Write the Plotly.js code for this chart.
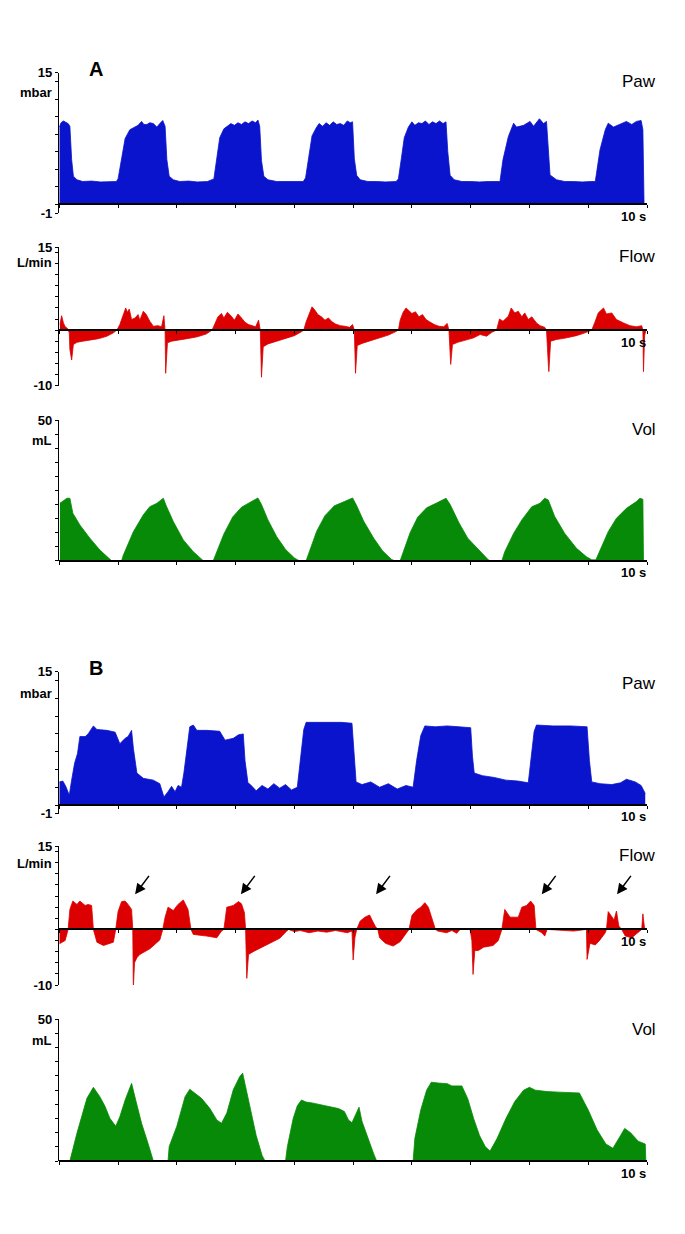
<!DOCTYPE html>
<html><head><meta charset="utf-8">
<script src="https://cdn.plot.ly/plotly-3.0.1.min.js"></script>
<style>html,body{margin:0;padding:0;background:#fff;}#chart{width:685px;height:1234px;}</style>
</head><body><div id="chart"></div>
<script>
// ---------- DATA (time in s, value in signal units) ----------
const pawA = [[0.00,8.8],[0.03,9.3],[0.07,9.5],[0.10,9.4],[0.15,9.2],[0.18,8.9],[0.21,5.1],[0.24,3.2],[0.30,2.8],[0.40,2.6],[0.55,2.65],[0.70,2.55],[0.85,2.6],[0.97,2.6],
[1.00,2.9],[1.06,5.1],[1.12,7.5],[1.20,8.5],[1.29,8.8],[1.34,9.0],[1.40,9.45],[1.44,9.1],[1.49,9.1],[1.54,9.3],[1.60,9.2],[1.66,8.8],[1.71,9.2],[1.76,9.55],[1.80,8.9],[1.83,5.1],[1.87,3.2],[1.94,2.8],
[2.05,2.6],[2.20,2.65],[2.35,2.55],[2.52,2.6],
[2.63,2.9],[2.68,5.2],[2.73,7.6],[2.80,8.6],[2.86,8.9],[2.92,9.2],[2.98,9.0],[3.04,9.3],[3.10,9.1],[3.16,9.4],[3.22,9.2],[3.28,9.5],[3.34,9.3],[3.38,9.6],[3.41,8.9],[3.44,5.0],[3.48,3.2],[3.55,2.8],
[3.70,2.6],[3.85,2.6],[4.00,2.55],[4.15,2.6],
[4.19,3.0],[4.24,5.3],[4.30,7.8],[4.37,8.7],[4.42,9.2],[4.48,8.9],[4.54,9.3],[4.60,9.0],[4.66,9.4],[4.72,9.1],[4.78,9.2],[4.84,9.0],[4.90,9.5],[4.95,9.3],[4.99,9.4],[5.02,5.2],[5.06,3.3],[5.12,2.8],
[5.25,2.6],[5.40,2.6],[5.55,2.55],[5.73,2.6],
[5.77,2.9],[5.82,5.2],[5.87,7.6],[5.94,8.8],[6.00,9.4],[6.05,9.0],[6.11,9.3],[6.17,9.2],[6.23,9.5],[6.29,9.1],[6.35,9.4],[6.41,9.2],[6.47,9.5],[6.53,9.2],[6.58,9.4],[6.61,6.0],[6.65,3.3],[6.72,2.8],
[6.85,2.6],[7.00,2.6],[7.15,2.55],[7.30,2.6],[7.49,2.6],
[7.50,2.7],[7.55,5.1],[7.64,7.7],[7.73,9.25],[7.78,8.8],[7.90,9.0],[8.01,9.45],[8.07,8.9],[8.17,9.75],[8.24,9.2],[8.29,9.45],[8.32,6.2],[8.35,3.35],[8.46,2.8],
[8.60,2.6],[8.75,2.6],[8.90,2.55],[9.05,2.6],[9.12,2.6],
[9.14,3.5],[9.20,6.2],[9.29,8.5],[9.34,9.25],[9.43,8.8],[9.54,9.1],[9.65,9.45],[9.74,9.1],[9.82,9.45],[9.90,9.55],[9.93,8.5],[9.95,0]];

const flowA = [[0.01,1.0],[0.04,2.6],[0.07,1.3],[0.10,0.6],[0.14,0.3],[0.17,-0.5],[0.18,-3.5],[0.21,-5.4],[0.24,-2.6],[0.30,-2.2],[0.40,-2.0],[0.47,-1.9],[0.55,-1.7],[0.64,-1.6],[0.72,-1.4],[0.81,-1.1],[0.92,-0.5],[0.98,0],
[1.03,1.0],[1.09,2.8],[1.13,4.0],[1.16,3.2],[1.19,3.8],[1.23,1.9],[1.29,2.2],[1.34,2.8],[1.37,1.8],[1.43,3.4],[1.48,2.8],[1.54,1.6],[1.60,0.7],[1.68,0.8],[1.74,0.6],[1.78,2.6],[1.80,-0.1],[1.81,-7.8],[1.84,-2.3],[1.91,-2.0],[2.05,-1.7],[2.20,-1.5],[2.35,-1.2],[2.50,-0.7],[2.60,0],
[2.65,1.2],[2.70,2.4],[2.76,3.0],[2.80,2.2],[2.86,3.2],[2.92,2.6],[2.98,1.8],[3.04,2.9],[3.10,2.2],[3.16,1.4],[3.22,1.0],[3.28,0.8],[3.34,0.6],[3.39,1.8],[3.42,0],[3.44,-8.5],[3.47,-3.0],[3.55,-2.5],[3.70,-2.0],[3.85,-1.6],[4.00,-1.0],[4.12,-0.3],[4.16,0],
[4.20,1.5],[4.25,3.0],[4.30,4.2],[4.35,3.6],[4.40,2.8],[4.46,2.4],[4.52,1.8],[4.58,2.2],[4.64,1.5],[4.70,1.1],[4.78,0.8],[4.86,0.7],[4.94,0.5],[4.99,1.0],[5.02,0],[5.04,-7.8],[5.07,-2.8],[5.15,-2.4],[5.30,-1.9],[5.45,-1.5],[5.60,-0.9],[5.72,-0.3],[5.77,0],
[5.80,1.8],[5.85,3.2],[5.90,4.0],[5.95,3.5],[6.00,3.0],[6.06,3.3],[6.12,2.4],[6.18,2.8],[6.24,1.9],[6.30,1.5],[6.38,1.0],[6.46,0.7],[6.54,0.6],[6.60,1.2],[6.63,0],[6.66,-6.2],[6.69,-2.6],[6.78,-2.2],[6.90,-1.8],[7.05,-1.4],[7.16,-0.8],[7.27,-1.1],[7.36,-0.4],[7.44,0],
[7.49,2.0],[7.55,1.6],[7.64,2.5],[7.69,4.0],[7.75,3.1],[7.81,3.4],[7.87,2.4],[7.92,3.1],[7.98,1.9],[8.04,2.4],[8.12,1.3],[8.18,0.8],[8.26,0.5],[8.29,0],[8.32,-6.0],[8.33,-7.5],[8.36,-2.0],[8.46,-1.7],[8.63,-1.4],[8.80,-1.0],[8.97,-0.4],[9.06,0],
[9.12,1.6],[9.17,3.1],[9.26,4.0],[9.31,2.9],[9.40,3.1],[9.48,1.9],[9.60,1.3],[9.71,0.8],[9.82,0.6],[9.91,0.8],[9.93,0],[9.94,-7.5],[9.96,-1.0],[9.98,0]];

const volA = [[0.01,20.4],[0.13,22.2],[0.18,22.2],[0.23,16.9],[0.35,12.7],[0.52,8.0],[0.69,3.8],[0.86,0.8],[0.89,0],[1.06,0],[1.09,2.0],[1.26,10.3],[1.43,16.3],[1.54,19.2],[1.66,20.4],[1.77,22.2],[1.82,19.5],[1.94,13.9],[2.11,7.4],[2.28,3.2],[2.42,0.3],[2.45,0],
[2.62,0],[2.66,2.0],[2.80,9.5],[2.95,15.5],[3.10,19.0],[3.25,20.8],[3.38,22.3],[3.44,20.0],[3.55,14.5],[3.70,8.5],[3.85,4.0],[4.00,1.0],[4.08,0],
[4.20,0],[4.24,2.5],[4.38,10.5],[4.52,16.0],[4.68,19.5],[4.85,21.0],[4.99,22.3],[5.05,20.0],[5.18,14.0],[5.35,8.0],[5.50,3.5],[5.65,0.5],[5.70,0],
[5.80,0],[5.84,2.5],[5.97,10.0],[6.10,15.5],[6.25,18.8],[6.42,20.5],[6.58,22.2],[6.65,20.0],[6.80,13.5],[6.95,8.0],[7.16,3.2],[7.30,0.3],[7.33,0],
[7.53,0],[7.58,3.2],[7.73,9.7],[7.87,14.5],[8.04,19.2],[8.18,20.4],[8.26,22.2],[8.32,21.6],[8.43,15.7],[8.60,9.7],[8.80,4.4],[8.97,1.4],[9.06,0.3],[9.13,0.3],[9.20,3.8],[9.34,10.3],[9.48,15.1],[9.65,18.6],[9.82,21.0],[9.88,22.2],[9.93,21.8],[9.94,0]];

const pawB = [[0.00,2.6],[0.06,2.7],[0.11,2.1],[0.17,1.1],[0.21,2.8],[0.26,4.7],[0.31,5.8],[0.35,7.7],[0.44,7.7],[0.49,8.0],[0.58,8.9],[0.64,8.5],[0.81,8.4],[0.95,8.2],[1.03,6.9],[1.12,7.5],[1.17,7.7],[1.23,8.4],[1.26,6.4],[1.32,3.6],[1.43,3.0],[1.60,2.8],[1.71,2.4],[1.78,0.9],[1.85,1.5],[1.91,2.1],[1.97,1.5],[2.02,2.2],[2.08,2.0],[2.12,3.6],[2.17,6.2],[2.22,8.8],[2.28,9.0],[2.34,8.4],[2.51,8.4],[2.73,8.3],[2.82,7.3],[2.96,7.5],[3.05,7.9],[3.13,8.0],[3.16,5.0],[3.21,2.5],
[3.25,2.3],[3.35,1.6],[3.45,2.2],[3.55,1.8],[3.65,2.4],[3.75,1.9],[3.85,2.3],[3.95,1.7],[4.05,2.0],[4.10,5.0],[4.16,8.5],[4.20,9.3],[4.50,9.3],[4.80,9.3],[4.98,9.2],[5.02,5.5],[5.05,2.6],[5.15,2.3],[5.30,2.6],[5.45,2.0],[5.60,2.4],[5.75,1.8],[5.90,2.2],[6.02,2.0],
[6.08,5.0],[6.15,7.8],[6.22,8.9],[6.40,8.8],[6.60,8.9],[6.80,8.8],[7.00,8.7],[7.03,5.5],[7.06,3.6],[7.20,3.3],[7.40,3.1],[7.60,2.8],[7.80,2.7],[7.98,2.5],
[8.03,5.5],[8.08,8.3],[8.12,9.0],[8.40,8.9],[8.70,8.9],[8.98,8.8],[9.02,5.0],[9.06,2.6],[9.20,2.4],[9.40,2.3],[9.55,2.5],[9.65,2.9],[9.80,2.6],[9.90,2.2],[9.97,1.3]];

const flowB = [[0.00,-2.6],[0.10,-2.0],[0.15,0],[0.18,3.6],[0.23,5.1],[0.30,4.5],[0.35,5.1],[0.44,4.3],[0.49,4.5],[0.55,4.3],[0.58,0],[0.64,-2.3],[0.75,-2.9],[0.92,-2.3],[0.96,0],[1.00,3.2],[1.06,5.0],[1.12,5.1],[1.17,4.5],[1.23,3.6],[1.25,0],[1.26,-10.5],[1.28,-6.0],[1.32,-5.1],[1.37,-4.5],[1.54,-3.5],[1.71,-1.9],[1.76,0],[1.80,2.2],[1.85,4.0],[1.94,3.4],[2.02,4.5],[2.11,5.3],[2.19,3.6],[2.24,0],[2.28,-0.9],[2.51,-1.2],[2.68,-1.5],[2.76,-0.3],[2.80,0],[2.85,4.0],[2.96,4.3],[3.05,5.0],
[3.10,4.6],[3.15,3.0],[3.17,0],[3.19,-8.8],[3.22,-4.5],[3.30,-4.0],[3.45,-3.2],[3.60,-2.5],[3.75,-1.6],[3.85,-0.5],[3.90,0],[4.00,-0.4],[4.10,-0.2],[4.25,-0.6],[4.40,-0.3],[4.55,-0.5],[4.70,-0.2],[4.90,-0.6],[4.98,-0.3],[5.00,-5.5],[5.03,-1.5],[5.06,0],[5.12,1.5],[5.20,2.2],[5.28,2.6],[5.33,1.5],[5.38,0.5],[5.42,0],[5.45,-1.5],[5.55,-2.5],[5.68,-3.0],[5.80,-2.2],[5.90,-0.8],[5.95,0],[6.00,2.5],[6.08,3.5],[6.15,4.0],[6.22,4.8],[6.28,4.0],[6.34,2.0],[6.40,0],[6.44,-0.3],
[6.48,-0.4],[6.59,-0.6],[6.68,-0.2],[6.76,-0.7],[6.82,0],[6.99,0],[7.02,-2.0],[7.04,-8.1],[7.07,-3.8],[7.13,-3.8],[7.22,-3.2],[7.38,-2.9],[7.47,-2.0],[7.53,0],[7.58,3.6],[7.67,2.2],[7.81,2.2],[7.87,4.0],[7.95,4.3],[8.02,5.1],[8.08,4.3],[8.11,0],[8.21,-0.6],[8.26,-1.2],[8.30,0],[8.75,-0.3],[8.97,0],[8.98,-5.4],[9.03,-2.5],[9.12,-2.8],[9.20,-1.9],[9.29,-0.6],[9.31,0],[9.34,3.2],[9.40,2.3],[9.44,1.7],[9.48,3.3],[9.52,0.6],[9.57,0],[9.63,-1.2],[9.74,-1.5],[9.85,-0.6],[9.91,0],[9.93,2.8],[9.96,0]];

const volB = [[0.00,0],[0.18,0],[0.30,9.8],[0.38,15.6],[0.47,22.1],[0.58,26.0],[0.69,22.7],[0.78,19.2],[0.86,15.1],[0.96,12.3],[1.03,15.6],[1.12,21.5],[1.23,27.4],[1.30,21.5],[1.40,13.3],[1.51,6.2],[1.60,0],[1.85,0],[1.87,5.1],[2.00,12.3],[2.14,22.7],[2.22,25.3],[2.31,23.9],[2.42,22.1],[2.56,18.6],[2.68,14.5],[2.76,13.3],[2.85,16.9],[2.96,25.1],[3.07,29.8],
[3.12,31.0],[3.16,27.0],[3.25,18.0],[3.35,9.0],[3.45,2.0],[3.50,0],[3.85,0],[3.88,5.0],[3.98,15.0],[4.05,19.5],[4.12,21.5],[4.20,20.8],[4.30,20.5],[4.45,19.8],[4.60,19.0],[4.75,18.5],[4.85,17.5],[4.92,14.5],[4.98,13.5],[5.05,17.0],[5.10,19.0],[5.15,14.0],[5.25,8.0],[5.35,2.5],[5.40,0],
[6.02,0],[6.05,8.0],[6.15,18.0],[6.25,25.0],[6.33,27.8],[6.45,27.5],[6.60,27.3],[6.68,26.5],[6.85,26.5],[6.95,22.0],[7.05,15.0],[7.15,9.0],[7.25,5.0],[7.33,3.5],[7.45,8.0],[7.60,15.0],[7.75,21.0],[7.90,25.0],[8.00,26.0],[8.10,25.0],[8.30,24.5],[8.50,24.3],[8.85,24.0],[9.00,18.0],[9.15,11.0],[9.30,6.0],[9.42,4.5],[9.55,9.0],[9.62,11.5],[9.72,10.0],[9.85,7.0],[9.97,6.0],[9.98,0]];

const arrowTimes = [1.29, 3.09, 5.39, 8.21, 9.49];
const arrowFlow = 6.3;

const pawTicks = [-1,0,2,4,6,8,10,12,14,15];
const flowTicks = [-10,-8,-6,-4,-2,0,2,4,6,8,10,12,14,15];
const volTicks = [0,5,10,15,20,25,30,35,40,45,50];
const timeTicks = [0,1,2,3,4,5,6,7,8,9,10];

// ---------- LAYOUT GEOMETRY (pixels) ----------
const W=685, H=1234, XL=59.3, XR=647;
const fy = px => 1 - px/H;
const BLUE='#0a14cc', RED='#dc0000', GREEN='#078a07';
const FONT='Liberation Sans, Arial, sans-serif';

const panels = [
 {data:pawA, color:BLUE, lo:-1, hi:15, top:72.7, bot:213.1, zero:204.3, ticks:pawTicks, lab:['-1','15'], unit:'mbar', unitPx:93, name:'Paw', namePx:82},
 {data:flowA, color:RED, lo:-10, hi:15, top:247, bot:385.5, zero:330.1, ticks:flowTicks, lab:['-10','15'], unit:'L/min', unitPx:263, name:'Flow', namePx:256},
 {data:volA, color:GREEN, lo:0, hi:50, top:420, bot:560.7, zero:560.7, ticks:volTicks, lab:['50'], unit:'mL', unitPx:440, name:'Vol', namePx:430},
 {data:pawB, color:BLUE, lo:-1, hi:15, top:671.7, bot:813.9, zero:805, ticks:pawTicks, lab:['-1','15'], unit:'mbar', unitPx:693, name:'Paw', namePx:683},
 {data:flowB, color:RED, lo:-10, hi:15, top:846, bot:985, zero:929.4, ticks:flowTicks, lab:['-10','15'], unit:'L/min', unitPx:863, name:'Flow', namePx:855},
 {data:volB, color:GREEN, lo:0, hi:50, top:1019.3, bot:1161, zero:1161, ticks:volTicks, lab:['50'], unit:'mL', unitPx:1040, name:'Vol', namePx:1029}
];

const traces=[], annotations=[];
const layout = {width:W, height:H, margin:{l:0,r:0,t:0,b:0}, paper_bgcolor:'#ffffff', plot_bgcolor:'rgba(0,0,0,0)', showlegend:false, font:{family:FONT, color:'#000'}};

panels.forEach((p,i)=>{
  const n=i+1, xs='x'+(n>1?n:''), ys='y'+(n>1?n:'');
  traces.push({type:'scatter', mode:'lines', x:p.data.map(d=>d[0]), y:p.data.map(d=>d[1]), xaxis:xs, yaxis:ys,
    fill:'tozeroy', fillcolor:p.color, line:{color:p.color, width:0.8}, hoverinfo:'skip'});
  layout['xaxis'+(n>1?n:'')] = {domain:[XL/W, XR/W], range:[0,10], anchor:'free', position:fy(p.zero),
    showline:true, linecolor:'#000', linewidth:2, ticks:'outside', ticklen:3, tickwidth:1, tickcolor:'#000',
    tickmode:'array', tickvals:timeTicks, showticklabels:false, showgrid:false, zeroline:false, fixedrange:true};
  layout['yaxis'+(n>1?n:'')] = {domain:[fy(p.bot), fy(p.top)], range:[p.lo,p.hi], anchor:xs,
    showline:true, linecolor:'#000', linewidth:1.5, ticks:'outside', ticklen:3, tickwidth:1, tickcolor:'#000',
    tickmode:'array', tickvals:p.ticks, ticktext:p.ticks.map(v=>p.lab.includes(String(v))?String(v):''),
    tickfont:{family:FONT, size:13, weight:'bold', color:'#000'}, showgrid:false, zeroline:false, fixedrange:true};
  annotations.push({xref:'paper', yref:'paper', x:(XL-5)/W, y:fy(p.unitPx), xanchor:'right', yanchor:'middle', showarrow:false,
    text:p.unit, font:{family:FONT, size:13, weight:'bold', color:'#000'}});
  annotations.push({xref:'paper', yref:'paper', x:658/W, y:fy(p.namePx), xanchor:'right', yanchor:'middle', showarrow:false,
    text:p.name, font:{family:FONT, size:17, color:'#000'}});
  annotations.push({xref:xs, yref:'paper', x:10, xshift:1, y:fy(p.zero+12), xanchor:'right', yanchor:'middle', showarrow:false,
    text:'10 s', font:{family:FONT, size:13, weight:'bold', color:'#000'}});
});

annotations.push({xref:'paper', yref:'paper', x:96/W, y:fy(69), xanchor:'center', yanchor:'middle', showarrow:false, text:'A', font:{family:FONT, size:20, weight:'bold', color:'#000'}});
annotations.push({xref:'paper', yref:'paper', x:96/W, y:fy(668), xanchor:'center', yanchor:'middle', showarrow:false, text:'B', font:{family:FONT, size:20, weight:'bold', color:'#000'}});

arrowTimes.forEach(t=>{
  annotations.push({xref:'x5', yref:'y5', x:t, y:arrowFlow, ax:15, ay:-20, showarrow:true, text:'', arrowhead:2, arrowsize:1.4, arrowwidth:1.5, arrowcolor:'#000'});
});

layout.annotations = annotations;
Plotly.newPlot('chart', traces, layout, {staticPlot:true, displayModeBar:false});
</script>
</body></html>
